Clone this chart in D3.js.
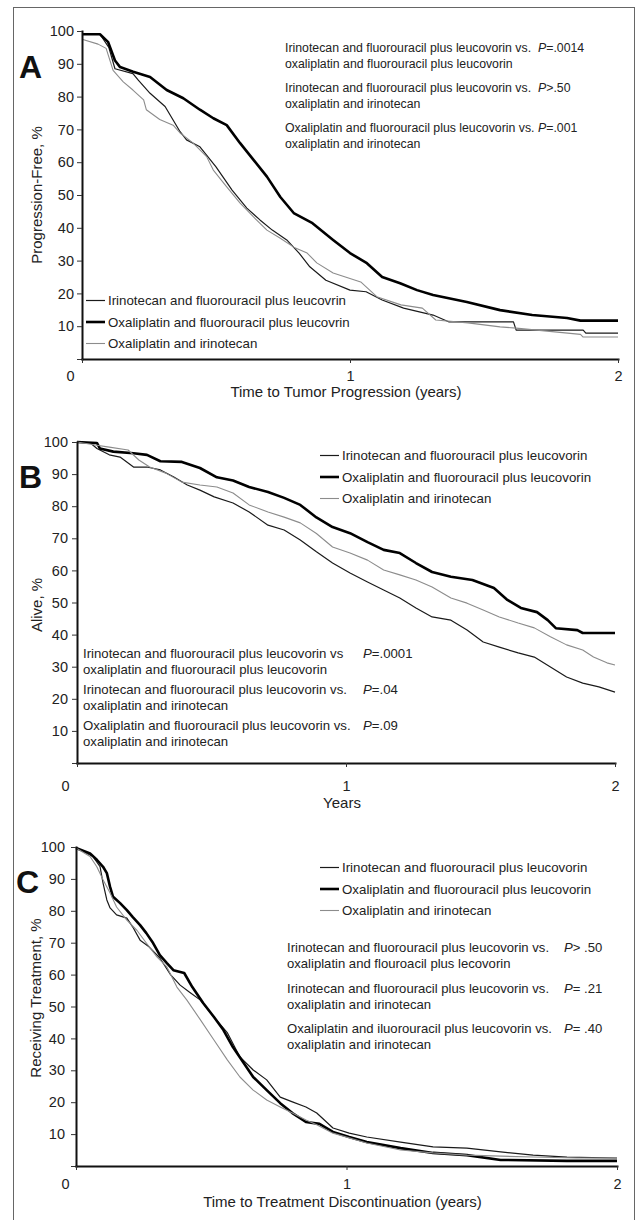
<!DOCTYPE html>
<html>
<head>
<meta charset="utf-8">
<script src="https://cdn.jsdelivr.net/npm/d3@7"></script>
<style>
    body { margin: 0; background: #fff; }
    svg { display: block; font-family: "Liberation Sans", Arial, Helvetica, sans-serif; }
    .axis text { font-size: 14.5px; fill: #222; }
    .axis .domain { stroke: #111; stroke-width: 2px; }
    .axis .tick line { stroke: #333; stroke-width: 1px; }
    .note, .legend-label { fill: #222; }
</style>
</head>
<body>
<div id="chart"></div>
<script>

// time in years, percent of patients
let xTicks = [0, 1, 2];
let yTicks = [0, 10, 20, 30, 40, 50, 60, 70, 80, 90, 100];

// A - progression free
let pfsIfl = [[0,99],[0.067,99],[0.1,95],[0.123,88.5],[0.19,87],[0.21,85],[0.254,81],[0.31,77],[0.366,69.3],[0.39,66.8],[0.44,64.7],[0.5,58.6],[0.56,51.5],[0.615,46],[0.664,42.4],[0.71,39.3],[0.764,36.3],[0.81,32.3],[0.85,28.1],[0.91,24],[1.0,21],[1.06,20.5],[1.12,18],[1.2,15.5],[1.31,13.4],[1.37,11.3],[1.61,11.3],[1.62,8.8],[1.87,8.8],[1.88,7.9],[2.0,7.9]];
let pfsFolfox = [[0,99],[0.067,99],[0.097,96.7],[0.123,91],[0.142,89],[0.191,87.6],[0.254,86],[0.316,82],[0.378,79.5],[0.44,76],[0.49,73.4],[0.54,71.3],[0.59,65.8],[0.64,60.7],[0.69,55.6],[0.74,49.4],[0.79,44.5],[0.86,41.4],[0.937,36.3],[1.0,32.3],[1.063,29.2],[1.12,25],[1.187,23.1],[1.25,21],[1.31,19.5],[1.436,17.4],[1.56,14.9],[1.68,13.4],[1.81,12.5],[1.86,11.7],[2.0,11.7]];
let pfsIrox = [[0,97.5],[0.06,96],[0.09,94.7],[0.116,88],[0.154,84.5],[0.19,82],[0.23,79],[0.24,76],[0.29,73],[0.34,71.3],[0.366,68.9],[0.415,65.8],[0.465,61.7],[0.49,57.6],[0.54,52.5],[0.59,47.5],[0.64,43.3],[0.69,39.3],[0.74,36.8],[0.79,34.1],[0.84,32.3],[0.876,29.3],[0.937,26.2],[1.04,23.5],[1.1,19],[1.19,16.5],[1.27,15.5],[1.32,11.9],[1.44,11],[1.56,9.8],[1.62,9.4],[1.86,7.5],[1.87,6.7],[2.0,6.7]];

// B - alive
let osIfl = [[0,100],[0.05,99.7],[0.074,98],[0.12,96],[0.16,95.3],[0.21,92.2],[0.26,92.2],[0.31,91.3],[0.36,89.1],[0.41,86.6],[0.457,85],[0.51,82.9],[0.58,81],[0.64,78.2],[0.71,74.1],[0.77,72.6],[0.83,69.5],[0.89,65.8],[0.95,62.3],[1.015,59.2],[1.08,56.4],[1.14,53.9],[1.2,51.4],[1.26,48.3],[1.32,45.5],[1.39,44.5],[1.45,41.4],[1.51,37.7],[1.57,36.1],[1.64,34.3],[1.7,33],[1.76,29.9],[1.82,26.8],[1.88,24.9],[1.94,23.7],[2.0,22.1]];
let osFolfox = [[0,100],[0.074,99.7],[0.085,98],[0.135,97],[0.21,96.5],[0.26,96],[0.31,94],[0.39,93.8],[0.457,91.9],[0.52,89],[0.58,88],[0.64,86],[0.71,84.4],[0.77,82.6],[0.83,80.4],[0.89,76.5],[0.95,73.5],[1.015,71.6],[1.08,68.8],[1.14,66.4],[1.2,65.4],[1.26,62.3],[1.32,59.5],[1.39,58],[1.47,57],[1.55,54.5],[1.6,50.8],[1.65,48.3],[1.71,47],[1.75,44.5],[1.78,42],[1.86,41.4],[1.88,40.5],[2.0,40.5]];
let osIrox = [[0,100],[0.074,99],[0.12,98.4],[0.19,97.5],[0.23,94.4],[0.27,92.2],[0.33,90.3],[0.39,87.5],[0.457,86.6],[0.52,86],[0.58,84.1],[0.64,80.4],[0.71,78.2],[0.77,76.6],[0.83,74.8],[0.89,71.5],[0.95,67.3],[1.015,65.4],[1.08,63.2],[1.14,60.1],[1.2,58.6],[1.26,57],[1.32,54.8],[1.39,51.4],[1.45,49.8],[1.51,47.7],[1.57,45.5],[1.64,43.6],[1.7,42.1],[1.76,39.3],[1.82,36.8],[1.88,35.2],[1.92,33],[1.97,31.2],[2.0,30.5]];

// C - receiving treatment
let rxIfl = [[0,99.7],[0.063,97],[0.089,93.8],[0.1,88.7],[0.114,83.4],[0.126,80.9],[0.15,78.7],[0.188,77.7],[0.21,74.9],[0.237,70.8],[0.27,68.7],[0.31,65.2],[0.35,59.9],[0.385,56.7],[0.42,54.5],[0.46,52],[0.51,46.7],[0.56,41.7],[0.606,34.2],[0.655,30.1],[0.705,27],[0.755,21.6],[0.8,20.1],[0.85,18.5],[0.89,16.6],[0.95,11.9],[1.01,10.3],[1.075,9.1],[1.2,7.5],[1.32,6],[1.445,5.6],[1.57,4.4],[1.69,3.4],[1.815,2.8],[2.0,2.5]];
let rxFolfox = [[0,99.7],[0.052,98],[0.077,96],[0.1,93.8],[0.114,91.8],[0.126,87.5],[0.137,84.4],[0.163,82.4],[0.188,80.2],[0.21,78],[0.237,75.5],[0.26,73],[0.285,69.9],[0.31,66.1],[0.336,63.6],[0.36,61.4],[0.4,60.5],[0.43,56.1],[0.47,51.1],[0.51,46.7],[0.545,42.6],[0.58,37.3],[0.62,32.3],[0.655,27.9],[0.705,23.8],[0.755,19.7],[0.8,16.6],[0.85,13.8],[0.9,13.2],[0.95,10.7],[1.01,9.1],[1.075,7.5],[1.2,5.6],[1.32,4.1],[1.445,3.4],[1.57,1.9],[1.815,1.6],[2.0,1.6]];
let rxIrox = [[0,99.7],[0.052,97],[0.077,93.8],[0.1,89.7],[0.126,85.6],[0.15,81.2],[0.188,77.1],[0.225,73.9],[0.26,69.9],[0.3,65.5],[0.336,62.4],[0.373,56.1],[0.41,52],[0.46,45.8],[0.51,39.5],[0.56,33.2],[0.606,27.9],[0.655,23.8],[0.705,20.7],[0.755,18.5],[0.8,16.6],[0.85,14.4],[0.89,12.9],[0.95,10.3],[1.075,7.2],[1.2,5],[1.32,4.1],[1.445,3.4],[1.69,2.8],[1.85,2.5],[2.0,2.5]];

let legendA = ["Irinotecan and fluorouracil plus leucovrin", "Oxaliplatin and fluorouracil plus leucovrin", "Oxaliplatin and irinotecan"];
let legendBC = ["Irinotecan and fluorouracil plus leucovorin", "Oxaliplatin and fluorouracil plus leucovorin", "Oxaliplatin and irinotecan"];

let notesA = [
    ["Irinotecan and fluorouracil plus leucovorin vs.", "oxaliplatin and fluorouracil plus leucovorin", "=.0014"],
    ["Irinotecan and fluorouracil plus leucovorin vs.", "oxaliplatin and irinotecan", ">.50"],
    ["Oxaliplatin and fluorouracil plus leucovorin vs.", "oxaliplatin and irinotecan", "=.001"]
];
let notesB = [
    ["Irinotecan and fluorouracil plus leucovorin vs", "oxaliplatin and fluorouracil plus leucovorin", "=.0001"],
    ["Irinotecan and fluorouracil plus leucovorin vs.", "oxaliplatin and irinotecan", "=.04"],
    ["Oxaliplatin and fluorouracil plus leucovorin vs.", "oxaliplatin and irinotecan", "=.09"]
];
let notesC = [
    ["Irinotecan and fluorouracil plus leucovorin vs.", "oxaliplatin and flouroacil plus lecovorin", "> .50"],
    ["Irinotecan and fluorouracil plus leucovorin vs.", "oxaliplatin and irinotecan", "= .21"],
    ["Oxaliplatin and iluorouracil plus leucovorin vs.", "oxaliplatin and irinotecan", "= .40"]
];

// line style per arm: irinotecan+FU, oxaliplatin+FU, oxaliplatin+irinotecan
let armStyles = [
    {stroke: "#1a1a1a", width: 1.2},
    {stroke: "#000", width: 2.6},
    {stroke: "#8c8c8c", width: 1.1}
];

let svg = d3.select("#chart").append("svg")
    .attr("width", 638)
    .attr("height", 1220);

// outer frame
svg.append("rect")
    .attr("x", 13.5).attr("y", 7.5)
    .attr("width", 621).attr("height", 1240)
    .attr("fill", "none")
    .attr("stroke", "#666")
    .attr("stroke-width", 1);

let panels = [
    {
        letter: "A", letterX: 19, letterY: 78,
        left: 82, right: 618, top: 31, bottom: 359,
        xPad: 8, yPad: 3, zeroDx: -12,
        series: [pfsIfl, pfsFolfox, pfsIrox],
        yTitle: "Progression-Free, %", yTitleX: 42, yTitleY: 195,
        xTitle: "Time to Tumor Progression (years)", xTitleY: 397,
        legend: legendA, legendX: 86, legendY: 305, legendStep: 21.5,
        notes: notesA, noteX: 285, noteY: 51.5, noteFont: 12.3, noteLine: 16, noteGap: 40, pX: 538
    },
    {
        letter: "B", letterX: 19, letterY: 488,
        left: 77, right: 615, top: 442, bottom: 763,
        xPad: 14, yPad: 4, zeroDx: -12,
        series: [osIfl, osFolfox, osIrox],
        yTitle: "Alive, %", yTitleX: 42, yTitleY: 605,
        xTitle: "Years", xTitleY: 808,
        legend: legendBC, legendX: 320, legendY: 460, legendStep: 21.5,
        notes: notesB, noteX: 83, noteY: 658, noteFont: 13.2, noteLine: 15.5, noteGap: 36, pX: 363
    },
    {
        letter: "C", letterX: 16, letterY: 893,
        left: 76, right: 617, top: 847, bottom: 1166,
        xPad: 9, yPad: 6, zeroDx: -11,
        series: [rxIfl, rxFolfox, rxIrox],
        yTitle: "Receiving Treatment, %", yTitleX: 41, yTitleY: 998,
        xTitle: "Time to Treatment Discontinuation (years)", xTitleY: 1207,
        legend: legendBC, legendX: 320, legendY: 872, legendStep: 21.5,
        notes: notesC, noteX: 287, noteY: 952, noteFont: 13.1, noteLine: 16, noteGap: 40.5, pX: 564
    }
];

panels.forEach(function(p) {
    let g = svg.append("g");

    let x = d3.scaleLinear().domain([0, 2]).range([p.left, p.right]);
    let y = d3.scaleLinear().domain([0, 100]).range([p.bottom, p.top]);

    // curves first so the axes sit on top
    let line = d3.line()
        .x(d => x(d[0]))
        .y(d => y(d[1]));

    g.selectAll("path.km")
        .data(p.series)
        .enter()
        .append("path")
        .attr("class", "km")
        .attr("fill", "none")
        .attr("stroke", (d, i) => armStyles[i].stroke)
        .attr("stroke-width", (d, i) => armStyles[i].width)
        .attr("stroke-linejoin", "round")
        .attr("d", line);

    let yAxis = d3.axisLeft(y)
        .tickValues(yTicks)
        .tickSize(5)
        .tickSizeOuter(0)
        .tickPadding(p.yPad)
        .tickFormat(d => d === 0 ? "" : d);

    let xAxis = d3.axisBottom(x)
        .tickValues(xTicks)
        .tickSize(4)
        .tickSizeOuter(0)
        .tickPadding(p.xPad)
        .tickFormat(d3.format("d"));

    g.append("g")
        .attr("class", "axis")
        .attr("transform", "translate(" + p.left + ",0)")
        .call(yAxis);

    let xg = g.append("g")
        .attr("class", "axis")
        .attr("transform", "translate(0," + p.bottom + ")")
        .call(xAxis);

    // the origin label sits left of the corner
    xg.selectAll(".tick text")
        .filter(d => d === 0)
        .attr("dx", p.zeroDx);

    g.selectAll(".axis .domain").attr("stroke-linecap", "square");

    // panel letter
    g.append("text")
        .attr("x", p.letterX)
        .attr("y", p.letterY)
        .style("font-size", "32px")
        .style("font-weight", "bold")
        .attr("fill", "#111")
        .text(p.letter);

    g.append("text")
        .attr("transform", "translate(" + p.yTitleX + "," + p.yTitleY + ") rotate(-90)")
        .attr("text-anchor", "middle")
        .style("font-size", "15px")
        .attr("fill", "#222")
        .text(p.yTitle);

    g.append("text")
        .attr("x", x(1) - 4)
        .attr("y", p.xTitleY)
        .attr("text-anchor", "middle")
        .style("font-size", "15px")
        .attr("fill", "#222")
        .text(p.xTitle);

    // legend
    let leg = g.selectAll("g.legend")
        .data(p.legend)
        .enter()
        .append("g")
        .attr("class", "legend")
        .attr("transform", (d, i) => "translate(" + p.legendX + "," + (p.legendY + i * p.legendStep) + ")");

    leg.append("line")
        .attr("x1", 0).attr("x2", 19)
        .attr("y1", -4.5).attr("y2", -4.5)
        .attr("stroke", (d, i) => armStyles[i].stroke)
        .attr("stroke-width", (d, i) => armStyles[i].width);

    leg.append("text")
        .attr("class", "legend-label")
        .attr("x", 22)
        .style("font-size", "13.3px")
        .text(d => d);

    // p-value notes
    let notes = g.selectAll("g.note")
        .data(p.notes)
        .enter()
        .append("g")
        .attr("class", "note")
        .attr("transform", (d, i) => "translate(0," + (p.noteY + i * p.noteGap) + ")")
        .style("font-size", p.noteFont + "px");

    notes.append("text")
        .attr("class", "note")
        .attr("x", p.noteX)
        .text(d => d[0]);

    notes.append("text")
        .attr("class", "note")
        .attr("x", p.noteX)
        .attr("y", p.noteLine)
        .text(d => d[1]);

    let pv = notes.append("text")
        .attr("class", "note")
        .attr("x", p.pX);
    pv.append("tspan").style("font-style", "italic").text("P");
    pv.append("tspan").text(d => d[2]);
});

</script>
</body>
</html>
